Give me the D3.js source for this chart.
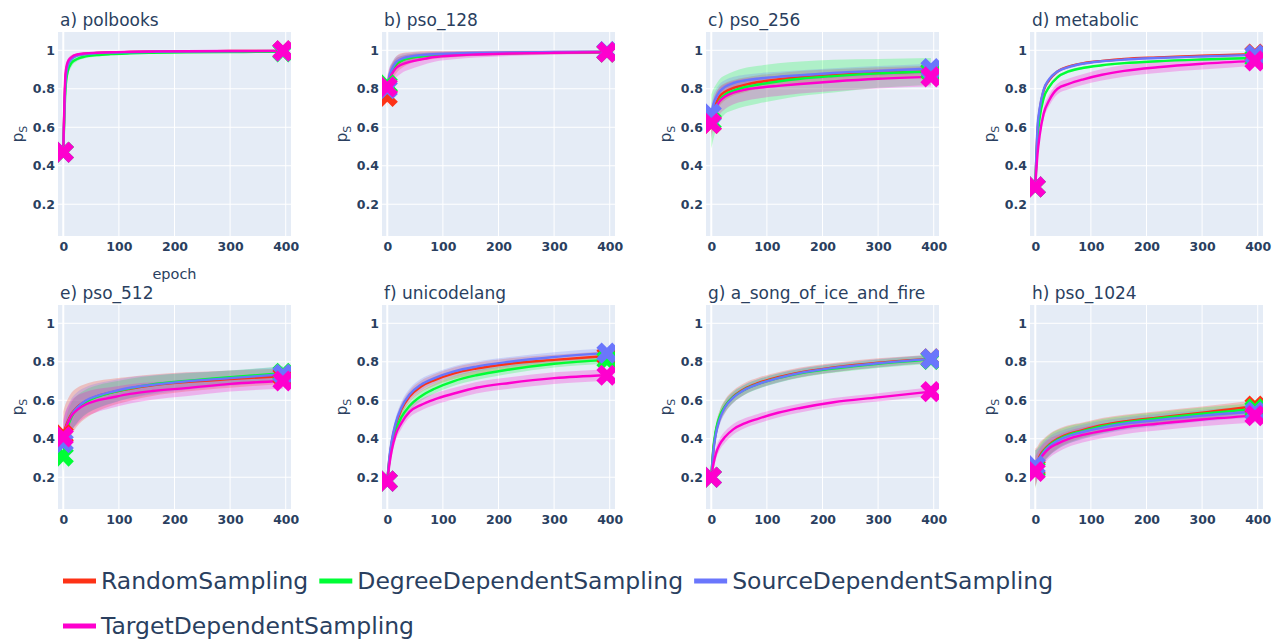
<!DOCTYPE html>
<html>
<head>
<meta charset="utf-8">
<script src="https://cdn.jsdelivr.net/npm/d3@7"></script>
<style>
  body { margin: 0; background: #fff; }
  text { font-family: 'DejaVu Sans', sans-serif; fill: #2a3f5f; }
</style>
</head>
<body>
<svg id="chart" width="1282" height="639"></svg>
<script>
// shared axes / categories
var epochs = [0, 4, 8, 15, 25, 40, 60, 85, 120, 160, 220, 300, 395]
var xTicks = [0, 100, 200, 300, 400]
var yTicks = [0.2, 0.4, 0.6, 0.8, 1]
var methods = ['RandomSampling', 'DegreeDependentSampling', 'SourceDependentSampling', 'TargetDependentSampling']
var colors = ['#FD3216', '#00FE35', '#6A76FC', '#FE00CE']
var titles = ['a) polbooks', 'b) pso_128', 'c) pso_256', 'd) metabolic',
  'e) pso_512', 'f) unicodelang', 'g) a_song_of_ice_and_fire', 'h) pso_1024']

// a) polbooks
var polbooksRandom = [0.47, 0.85, 0.93, 0.96, 0.975, 0.982, 0.986, 0.989, 0.991, 0.993, 0.995, 0.996, 0.997]
var polbooksRandomSd = [0, 0.03, 0.02, 0.012, 0.008, 0.006, 0.005, 0.004, 0.004, 0.003, 0.003, 0.003, 0.003]
var polbooksDegree = [0.47, 0.8, 0.89, 0.935, 0.955, 0.968, 0.975, 0.98, 0.984, 0.987, 0.989, 0.991, 0.992]
var polbooksDegreeSd = [0, 0.04, 0.03, 0.02, 0.012, 0.009, 0.007, 0.006, 0.005, 0.004, 0.004, 0.004, 0.004]
var polbooksSource = [0.47, 0.84, 0.92, 0.955, 0.972, 0.98, 0.985, 0.988, 0.99, 0.992, 0.994, 0.995, 0.996]
var polbooksSourceSd = [0, 0.03, 0.02, 0.012, 0.008, 0.006, 0.005, 0.004, 0.004, 0.003, 0.003, 0.003, 0.003]
var polbooksTarget = [0.47, 0.88, 0.94, 0.965, 0.978, 0.984, 0.987, 0.99, 0.992, 0.994, 0.995, 0.996, 0.997]
var polbooksTargetSd = [0, 0.025, 0.015, 0.01, 0.007, 0.005, 0.004, 0.004, 0.003, 0.003, 0.003, 0.003, 0.003]

// b) pso_128
var pso128Random = [0.76, 0.84, 0.88, 0.92, 0.945, 0.96, 0.97, 0.976, 0.98, 0.983, 0.986, 0.989, 0.991]
var pso128RandomSd = [0.06, 0.06, 0.05, 0.045, 0.04, 0.03, 0.025, 0.02, 0.016, 0.013, 0.011, 0.009, 0.008]
var pso128Degree = [0.82, 0.86, 0.89, 0.925, 0.945, 0.96, 0.968, 0.975, 0.979, 0.982, 0.985, 0.988, 0.99]
var pso128DegreeSd = [0.04, 0.04, 0.035, 0.03, 0.025, 0.02, 0.017, 0.014, 0.012, 0.01, 0.009, 0.008, 0.007]
var pso128Source = [0.8, 0.87, 0.9, 0.935, 0.955, 0.967, 0.975, 0.98, 0.983, 0.986, 0.989, 0.991, 0.993]
var pso128SourceSd = [0.04, 0.04, 0.035, 0.03, 0.025, 0.02, 0.016, 0.013, 0.011, 0.01, 0.008, 0.007, 0.006]
var pso128Target = [0.81, 0.85, 0.875, 0.905, 0.925, 0.94, 0.952, 0.965, 0.973, 0.978, 0.983, 0.987, 0.99]
var pso128TargetSd = [0.06, 0.06, 0.055, 0.05, 0.045, 0.04, 0.032, 0.025, 0.02, 0.016, 0.013, 0.01, 0.008]

// c) pso_256
var pso256Random = [0.62, 0.68, 0.72, 0.76, 0.785, 0.805, 0.82, 0.835, 0.848, 0.86, 0.872, 0.882, 0.89]
var pso256RandomSd = [0.06, 0.06, 0.055, 0.05, 0.045, 0.04, 0.038, 0.035, 0.033, 0.032, 0.03, 0.03, 0.03]
var pso256Degree = [0.63, 0.67, 0.7, 0.74, 0.77, 0.79, 0.808, 0.822, 0.838, 0.852, 0.866, 0.88, 0.89]
var pso256DegreeSd = [0.14, 0.13, 0.12, 0.11, 0.1, 0.1, 0.1, 0.098, 0.095, 0.09, 0.085, 0.075, 0.07]
var pso256Source = [0.67, 0.72, 0.75, 0.785, 0.81, 0.83, 0.843, 0.853, 0.862, 0.87, 0.882, 0.893, 0.905]
var pso256SourceSd = [0.05, 0.05, 0.045, 0.04, 0.035, 0.032, 0.03, 0.028, 0.027, 0.026, 0.025, 0.025, 0.025]
var pso256Target = [0.62, 0.67, 0.7, 0.735, 0.76, 0.78, 0.795, 0.805, 0.815, 0.825, 0.838, 0.852, 0.862]
var pso256TargetSd = [0.08, 0.08, 0.075, 0.07, 0.065, 0.06, 0.058, 0.055, 0.053, 0.05, 0.05, 0.05, 0.05]

// d) metabolic
var metabolicRandom = [0.29, 0.58, 0.69, 0.79, 0.845, 0.89, 0.915, 0.932, 0.945, 0.955, 0.963, 0.972, 0.98]
var metabolicRandomSd = [0, 0.02, 0.015, 0.012, 0.01, 0.008, 0.007, 0.006, 0.005, 0.005, 0.005, 0.005, 0.005]
var metabolicDegree = [0.29, 0.54, 0.65, 0.75, 0.81, 0.86, 0.89, 0.908, 0.922, 0.933, 0.943, 0.952, 0.96]
var metabolicDegreeSd = [0, 0.02, 0.015, 0.012, 0.01, 0.008, 0.007, 0.006, 0.005, 0.005, 0.005, 0.005, 0.005]
var metabolicSource = [0.29, 0.6, 0.7, 0.795, 0.85, 0.89, 0.913, 0.93, 0.943, 0.952, 0.96, 0.968, 0.976]
var metabolicSourceSd = [0, 0.02, 0.015, 0.012, 0.01, 0.008, 0.007, 0.006, 0.005, 0.005, 0.005, 0.005, 0.005]
var metabolicTarget = [0.29, 0.46, 0.56, 0.67, 0.74, 0.8, 0.825, 0.848, 0.873, 0.893, 0.912, 0.93, 0.945]
var metabolicTargetSd = [0, 0.03, 0.03, 0.03, 0.03, 0.028, 0.028, 0.028, 0.03, 0.03, 0.03, 0.03, 0.025]

// e) pso_512
var pso512Random = [0.42, 0.46, 0.49, 0.53, 0.565, 0.595, 0.62, 0.64, 0.66, 0.678, 0.695, 0.71, 0.725]
var pso512RandomSd = [0.12, 0.12, 0.115, 0.11, 0.1, 0.09, 0.08, 0.07, 0.062, 0.056, 0.05, 0.045, 0.04]
var pso512Degree = [0.31, 0.41, 0.46, 0.515, 0.555, 0.59, 0.617, 0.638, 0.662, 0.682, 0.7, 0.72, 0.74]
var pso512DegreeSd = [0.08, 0.08, 0.08, 0.075, 0.07, 0.065, 0.06, 0.055, 0.05, 0.045, 0.04, 0.035, 0.035]
var pso512Source = [0.38, 0.44, 0.48, 0.525, 0.562, 0.598, 0.622, 0.642, 0.665, 0.68, 0.698, 0.715, 0.735]
var pso512SourceSd = [0.1, 0.1, 0.09, 0.085, 0.08, 0.07, 0.065, 0.06, 0.055, 0.05, 0.045, 0.04, 0.04]
var pso512Target = [0.41, 0.45, 0.48, 0.52, 0.55, 0.578, 0.598, 0.613, 0.633, 0.648, 0.663, 0.685, 0.7]
var pso512TargetSd = [0.09, 0.09, 0.085, 0.08, 0.075, 0.065, 0.06, 0.055, 0.05, 0.045, 0.042, 0.04, 0.04]

// f) unicodelang
var unicodeRandom = [0.18, 0.3, 0.38, 0.47, 0.55, 0.62, 0.67, 0.705, 0.74, 0.765, 0.79, 0.81, 0.83]
var unicodeRandomSd = [0.02, 0.03, 0.03, 0.03, 0.03, 0.03, 0.03, 0.03, 0.03, 0.03, 0.028, 0.027, 0.025]
var unicodeDegree = [0.18, 0.29, 0.36, 0.44, 0.51, 0.57, 0.62, 0.66, 0.7, 0.73, 0.76, 0.79, 0.81]
var unicodeDegreeSd = [0.02, 0.025, 0.025, 0.025, 0.025, 0.025, 0.025, 0.025, 0.025, 0.025, 0.022, 0.02, 0.02]
var unicodeSource = [0.18, 0.31, 0.39, 0.48, 0.56, 0.63, 0.68, 0.715, 0.75, 0.775, 0.8, 0.825, 0.845]
var unicodeSourceSd = [0.02, 0.03, 0.03, 0.03, 0.03, 0.03, 0.03, 0.028, 0.027, 0.026, 0.025, 0.025, 0.025]
var unicodeTarget = [0.18, 0.27, 0.34, 0.42, 0.48, 0.54, 0.575, 0.605, 0.635, 0.665, 0.69, 0.715, 0.73]
var unicodeTargetSd = [0.02, 0.03, 0.03, 0.03, 0.03, 0.03, 0.03, 0.03, 0.03, 0.03, 0.03, 0.03, 0.03]

// g) a_song_of_ice_and_fire
var songRandom = [0.2, 0.35, 0.43, 0.51, 0.57, 0.62, 0.66, 0.69, 0.72, 0.745, 0.77, 0.795, 0.815]
var songRandomSd = [0.02, 0.035, 0.035, 0.035, 0.035, 0.032, 0.03, 0.028, 0.026, 0.025, 0.024, 0.023, 0.022]
var songDegree = [0.2, 0.36, 0.44, 0.515, 0.57, 0.618, 0.655, 0.685, 0.715, 0.74, 0.765, 0.79, 0.812]
var songDegreeSd = [0.02, 0.03, 0.03, 0.03, 0.03, 0.028, 0.026, 0.025, 0.024, 0.023, 0.022, 0.022, 0.022]
var songSource = [0.2, 0.34, 0.42, 0.5, 0.565, 0.615, 0.655, 0.685, 0.715, 0.742, 0.768, 0.792, 0.815]
var songSourceSd = [0.02, 0.03, 0.03, 0.03, 0.03, 0.028, 0.026, 0.025, 0.024, 0.023, 0.022, 0.022, 0.022]
var songTarget = [0.2, 0.27, 0.32, 0.37, 0.41, 0.45, 0.48, 0.505, 0.535, 0.56, 0.59, 0.615, 0.645]
var songTargetSd = [0.02, 0.03, 0.03, 0.03, 0.03, 0.028, 0.026, 0.025, 0.024, 0.023, 0.022, 0.022, 0.022]

// h) pso_1024
var pso1024Random = [0.25, 0.28, 0.31, 0.34, 0.37, 0.4, 0.425, 0.445, 0.47, 0.49, 0.51, 0.535, 0.57]
var pso1024RandomSd = [0.1, 0.08, 0.07, 0.06, 0.055, 0.05, 0.045, 0.04, 0.038, 0.035, 0.033, 0.032, 0.03]
var pso1024Degree = [0.24, 0.27, 0.3, 0.335, 0.365, 0.395, 0.42, 0.44, 0.465, 0.485, 0.505, 0.53, 0.555]
var pso1024DegreeSd = [0.1, 0.08, 0.07, 0.06, 0.055, 0.05, 0.045, 0.04, 0.038, 0.035, 0.033, 0.032, 0.03]
var pso1024Source = [0.26, 0.28, 0.3, 0.33, 0.36, 0.39, 0.415, 0.435, 0.458, 0.478, 0.497, 0.52, 0.54]
var pso1024SourceSd = [0.08, 0.07, 0.06, 0.055, 0.05, 0.045, 0.04, 0.038, 0.035, 0.033, 0.032, 0.03, 0.03]
var pso1024Target = [0.23, 0.26, 0.29, 0.32, 0.35, 0.375, 0.4, 0.42, 0.44, 0.46, 0.478, 0.5, 0.52]
var pso1024TargetSd = [0.08, 0.07, 0.06, 0.055, 0.05, 0.045, 0.042, 0.04, 0.038, 0.036, 0.035, 0.035, 0.035]

var panels = [
  [[polbooksRandom, polbooksRandomSd], [polbooksDegree, polbooksDegreeSd], [polbooksSource, polbooksSourceSd], [polbooksTarget, polbooksTargetSd]],
  [[pso128Random, pso128RandomSd], [pso128Degree, pso128DegreeSd], [pso128Source, pso128SourceSd], [pso128Target, pso128TargetSd]],
  [[pso256Random, pso256RandomSd], [pso256Degree, pso256DegreeSd], [pso256Source, pso256SourceSd], [pso256Target, pso256TargetSd]],
  [[metabolicRandom, metabolicRandomSd], [metabolicDegree, metabolicDegreeSd], [metabolicSource, metabolicSourceSd], [metabolicTarget, metabolicTargetSd]],
  [[pso512Random, pso512RandomSd], [pso512Degree, pso512DegreeSd], [pso512Source, pso512SourceSd], [pso512Target, pso512TargetSd]],
  [[unicodeRandom, unicodeRandomSd], [unicodeDegree, unicodeDegreeSd], [unicodeSource, unicodeSourceSd], [unicodeTarget, unicodeTargetSd]],
  [[songRandom, songRandomSd], [songDegree, songDegreeSd], [songSource, songSourceSd], [songTarget, songTargetSd]],
  [[pso1024Random, pso1024RandomSd], [pso1024Degree, pso1024DegreeSd], [pso1024Source, pso1024SourceSd], [pso1024Target, pso1024TargetSd]]
]

// layout
var lefts = [58, 382, 706, 1030]
var tops = [32, 305]
var width = 233
var height = 204

var svg = d3.select('#chart')

var xPositionScale = d3.scaleLinear().domain([-9.5, 409.5]).range([0, width])
var yPositionScale = d3.scaleLinear().domain([0.035, 1.095]).range([height, 0])

var line = d3
  .line()
  .x((d, i) => xPositionScale(epochs[i]))
  .y(d => yPositionScale(d))
  .curve(d3.curveMonotoneX)

var band = d3
  .area()
  .x(d => xPositionScale(d.x))
  .y0(d => yPositionScale(d.lo))
  .y1(d => yPositionScale(d.hi))
  .curve(d3.curveMonotoneX)

// plotly-like thick "x"
var xMarker = d3.symbol().type(d3.symbolCross).size(280)

panels.forEach(function(series, p) {
  var col = p % 4
  var row = Math.floor(p / 4)
  var g = svg
    .append('g')
    .attr('transform', `translate(${lefts[col]}, ${tops[row]})`)

  g.append('rect')
    .attr('width', width)
    .attr('height', height)
    .attr('fill', '#e5ecf6')

  // grid
  g.selectAll('.hgrid')
    .data(yTicks)
    .enter()
    .append('line')
    .attr('x1', 0)
    .attr('x2', width)
    .attr('y1', d => yPositionScale(d))
    .attr('y2', d => yPositionScale(d))
    .attr('stroke', '#fff')
    .attr('stroke-width', 1)

  g.selectAll('.vgrid')
    .data(xTicks)
    .enter()
    .append('line')
    .attr('x1', d => xPositionScale(d))
    .attr('x2', d => xPositionScale(d))
    .attr('y1', 0)
    .attr('y2', height)
    .attr('stroke', '#fff')
    .attr('stroke-width', d => (d === 0 ? 2 : 1))

  // axes
  var xAxis = d3.axisBottom(xPositionScale).tickValues(xTicks).tickSize(0).tickPadding(6)
  g.append('g')
    .attr('transform', `translate(0, ${height})`)
    .call(xAxis)
    .call(a => a.select('.domain').remove())
    .selectAll('text')
    .attr('font-size', 12.5)
    .attr('font-weight', 'bold')
    .attr('font-family', 'DejaVu Sans')
    .attr('fill', '#2a3f5f')

  var yAxis = d3.axisLeft(yPositionScale).tickValues(yTicks).tickSize(0).tickPadding(3).tickFormat(d3.format('~g'))
  g.append('g')
    .call(yAxis)
    .call(a => a.select('.domain').remove())
    .selectAll('text')
    .attr('font-size', 12.5)
    .attr('font-weight', 'bold')
    .attr('font-family', 'DejaVu Sans')
    .attr('fill', '#2a3f5f')

  // clip region
  g.append('clipPath')
    .attr('id', 'clip' + p)
    .append('rect')
    .attr('width', width)
    .attr('height', height)

  var plot = g.append('g').attr('clip-path', `url(#clip${p})`)

  // bands
  series.forEach(function(s, k) {
    var pts = s[0].map((m, i) => ({ x: epochs[i], lo: m - s[1][i], hi: m + s[1][i] }))
    plot.append('path')
      .datum(pts)
      .attr('d', band)
      .attr('fill', colors[k])
      .attr('fill-opacity', 0.24)
  })

  // mean lines
  series.forEach(function(s, k) {
    plot.append('path')
      .datum(s[0])
      .attr('d', line)
      .attr('fill', 'none')
      .attr('stroke', colors[k])
      .attr('stroke-width', 2.4)
  })

  // start / end markers
  series.forEach(function(s, k) {
    var ends = [0, s[0].length - 1]
    plot.selectAll('.m' + k)
      .data(ends)
      .enter()
      .append('path')
      .attr('d', xMarker)
      .attr('transform', i => `translate(${xPositionScale(epochs[i])}, ${yPositionScale(s[0][i])}) rotate(45)`)
      .attr('fill', colors[k])
  })

  // title
  g.append('text')
    .text(titles[p])
    .attr('x', 2)
    .attr('y', -6)
    .attr('font-size', 17)

  // y label
  var yl = g.append('text')
    .attr('transform', `translate(-40, ${height / 2}) rotate(-90)`)
    .attr('text-anchor', 'middle')
    .attr('dy', '0.35em')
    .attr('font-size', 15)
  yl.append('tspan').text('p')
  yl.append('tspan').text('S').attr('font-size', 11).attr('dy', 4)

  if (p === 0) {
    g.append('text')
      .text('epoch')
      .attr('x', width / 2)
      .attr('y', height + 43)
      .attr('text-anchor', 'middle')
      .attr('font-size', 14.5)
  }
})

// legend
var legendRows = [[0, 1, 2], [3]]
var legendY = [581, 626]
legendRows.forEach(function(items, r) {
  var x = 63
  items.forEach(function(k) {
    svg.append('line')
      .attr('x1', x)
      .attr('x2', x + 33)
      .attr('y1', legendY[r])
      .attr('y2', legendY[r])
      .attr('stroke', colors[k])
      .attr('stroke-width', 5)
    var t = svg.append('text')
      .text(methods[k])
      .attr('x', x + 38)
      .attr('y', legendY[r])
      .attr('dy', '0.35em')
      .attr('font-size', 23.5)
    x = x + 38 + t.node().getComputedTextLength() + 11
  })
})
</script>
</body>
</html>
